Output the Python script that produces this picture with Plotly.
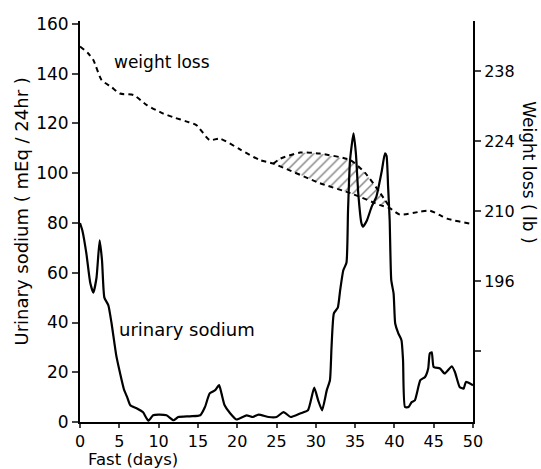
import plotly.graph_objects as go

# Urinary sodium (mEq/24hr) by fast day
sodium_days = [0, 0.3, 0.8, 1.3, 1.7, 2.1, 2.5, 2.8, 3.1, 3.6, 4.0, 4.6, 5.0, 5.6, 6.0, 6.4, 7.2, 8.0, 8.7,
               9.3, 10, 11, 11.9, 12.5, 14, 15.3, 15.9, 16.5, 17.2, 17.7, 18.0, 18.4, 19.1, 19.9, 21.2, 22,
               22.7, 24, 25, 25.9, 26.8, 28, 29, 29.8, 30.3, 30.8, 31.4, 31.8, 32.0, 32.3, 32.8, 33.1, 33.5,
               33.9, 34.1, 34.35, 34.8, 35.1, 35.4, 35.8, 36.0, 36.5, 37.1, 37.7, 38.4, 38.8, 39.0, 39.2,
               39.4, 39.6, 39.9, 40.1, 40.5, 40.9, 41.1, 41.35, 41.8, 42.2, 42.6, 43.3, 43.9, 44.3, 44.5,
               44.75, 45.0, 45.8, 46.4, 47.3, 47.7, 48.3, 48.8, 49.1, 50]
sodium_vals = [80, 77, 68, 56, 52, 58, 73, 65, 50, 47, 40, 27, 21, 13, 10, 6.7, 5.5, 4, 0.5,
               2.7, 3, 2.7, 0.7, 2, 2.3, 2.7, 6, 11.5, 12.8, 14.8, 11.5, 6.7, 3.5, 1, 2.7, 2,
               3, 2, 2, 4, 2, 3.4, 4.7, 13.8, 8.7, 4.7, 12.8, 16.8, 30, 43.7, 46, 53, 61,
               64, 85, 105, 116, 108, 92, 80, 78.5, 81, 86.5, 90.5, 101, 108, 107, 94.5,
               81, 57, 51.6, 39.6, 35.6, 32.9, 24.8, 6, 6, 8, 8.7, 16.8, 18.1, 21.5, 27.5,
               28, 22.1, 21.5, 19.5, 22.4, 20.1, 14.1, 13.4, 16.1, 14.8]

# Weight (lb) by fast day
weight_days = [0, 1.0, 1.7, 2.75, 4, 5.1, 6.8, 8.5, 10.6, 12, 13.6, 14.8, 16.5, 17.8, 20.4, 22.9, 24.6,
               30.5, 34.4, 38.2, 39.4, 40.7, 43.3, 44.5, 45.8, 46.7, 49.6, 50]
weight_vals = [242.9, 241.6, 240.2, 236.2, 234.8, 233.5, 233.2, 231.2, 229.5, 228.7, 227.9, 227.2, 224.2,
               224.5, 222.3, 220.2, 219.5, 215.6, 213.6, 211.2, 210.6, 209.3, 209.9, 210.1, 209.2, 208.5,
               207.5, 207.4]

# Upper boundary of hatched area
hump_days = [24.6, 25.5, 28, 30.5, 34.4, 36.3, 38.2, 39.4]
hump_vals = [219.5, 220.5, 221.7, 221.5, 220.2, 217.6, 213.6, 210.8]
# Lower boundary of hatched area
low_days = [24.6, 30.5, 34.4, 38.2, 39.4]
low_vals = [219.5, 215.6, 213.6, 211.2, 210.6]

x_ticks = list(range(0, 51, 5))
y_ticks = list(range(0, 161, 20))
y2_ticks = [182, 196, 210, 224, 238]
y2_labels = ["", "196", "210", "224", "238"]

FONT = "DejaVu Sans"

fig = go.Figure()

fig.add_trace(go.Scatter(
    x=low_days + hump_days[::-1], y=low_vals + hump_vals[::-1], yaxis="y2",
    mode="lines", line=dict(width=0), fill="toself", fillcolor="rgba(0,0,0,0)",
    fillpattern=dict(shape="/", fgcolor="black", bgcolor="rgba(0,0,0,0)", size=7, solidity=0.2),
    hoverinfo="skip", showlegend=False))

fig.add_trace(go.Scatter(
    x=hump_days, y=hump_vals, yaxis="y2", mode="lines",
    line=dict(color="black", width=2, dash="5px,4px", shape="spline", smoothing=0.6),
    showlegend=False))

fig.add_trace(go.Scatter(
    x=weight_days, y=weight_vals, yaxis="y2", mode="lines",
    line=dict(color="black", width=2, dash="5px,4px", shape="spline", smoothing=0.6),
    showlegend=False))

fig.add_trace(go.Scatter(
    x=sodium_days, y=sodium_vals, mode="lines",
    line=dict(color="black", width=2.2, shape="spline", smoothing=0.5),
    showlegend=False))

def label(text, x, y, size, angle=0):
    return dict(text=text, xref="paper", yref="paper", x=x, y=y, xanchor="center",
                yanchor="middle", textangle=angle, showarrow=False, font=dict(size=size))

fig.update_layout(
    width=541, height=469,
    margin=dict(l=80, r=68, t=21, b=47.3),
    plot_bgcolor="white", paper_bgcolor="white",
    font=dict(family=FONT, color="black", size=17),
    xaxis=dict(range=[0, 50], tickvals=x_ticks, ticks="outside", ticklen=4, tickwidth=2,
               showline=True, linewidth=2, linecolor="black", showgrid=False, zeroline=False,
               tickfont=dict(size=16)),
    yaxis=dict(range=[0, 161.2], tickvals=y_ticks, ticks="outside", ticklen=6, tickwidth=2,
               showline=True, linewidth=2, linecolor="black", showgrid=False, zeroline=False,
               tickfont=dict(size=17)),
    yaxis2=dict(range=[167.86, 248], overlaying="y", side="right", tickvals=y2_ticks,
                ticktext=y2_labels, ticks="outside", ticklen=6, tickwidth=2,
                showline=True, linewidth=2, linecolor="black", showgrid=False, zeroline=False,
                tickfont=dict(size=16)),
    annotations=[
        label("Urinary sodium ( mEq / 24hr )", -0.150, 0.525, 18, -90),
        label("Weight loss ( lb )", 1.1425, 0.623, 17, 90),
        label("Fast (days)", 0.1336, -0.0931, 16.5),
        label("weight loss", 0.2087, 0.8977, 17),
        label("urinary sodium", 0.271, 0.2313, 18),
    ],
)

fig.write_html("out.html")
